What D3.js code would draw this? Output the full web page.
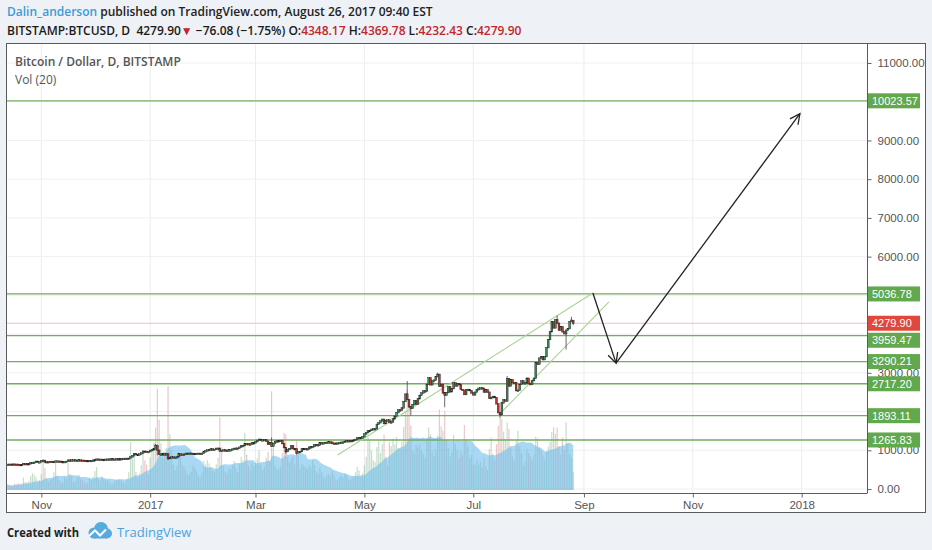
<!DOCTYPE html>
<html>
<head>
<meta charset="utf-8">
<title>BITSTAMP:BTCUSD, D</title>
<script src="https://cdnjs.cloudflare.com/ajax/libs/d3/7.8.5/d3.min.js"></script>
<style>
  body { margin: 0; background: #eef1f5; }
  svg { display: block; font-family: "Liberation Sans", Arial, sans-serif; }
  .hdr { font-family: "Open Sans", sans-serif; font-weight: 600; font-size: 12px; }
</style>
</head>
<body>
<svg width="932" height="550"></svg>
<script>
// daily closes (USD), Bitstamp, 13 Oct 2016 .. 26 Aug 2017
var closeOct16 = [636,638,637,641,638,637,630,629,631,655,653,651,651,676,684,688,714,698,700]
var closeNov16 = [730,739,688,704,703,711,703,709,721,715,716,705,702,706,712,745,740,750,751,730,738,748,741,740,735,733,729,735,733,744]
var closeDec16 = [752,770,765,766,757,760,767,770,771,775,768,770,778,777,776,781,788,789,787,792,828,859,916,891,890,902,929,975,972,959,966]
var closeJan17 = [997,1015,1035,1125,1000,893,900,906,900,905,785,812,825,818,820,830,902,873,898,893,921,921,923,918,892,914,918,920,914,920,967]
var closeFeb17 = [985,1007,1018,1033,1014,1024,1050,1052,980,995,1008,996,994,1007,1010,1030,1048,1053,1052,1080,1117,1122,1172,1168,1143,1161,1190,1190]
var closeMar17 = [1222,1255,1283,1262,1268,1275,1233,1150,1190,1105,1180,1226,1238,1244,1253,1172,1070,965,1022,1043,1116,1040,1040,933,965,968,1040,1045,1038,1033,1080]
var closeApr17 = [1085,1095,1145,1142,1130,1192,1190,1180,1203,1206,1213,1208,1172,1180,1184,1180,1198,1207,1210,1230,1245,1240,1248,1239,1262,1280,1318,1328,1317,1348]
var closeMay17 = [1420,1455,1500,1510,1540,1555,1555,1670,1710,1760,1800,1690,1760,1780,1715,1730,1810,1880,1970,2040,2035,2090,2260,2450,2310,2120,2080,2180,2280,2190,2330]
var closeJun17 = [2420,2480,2530,2520,2700,2870,2690,2790,2810,2900,2960,2650,2700,2480,2420,2490,2640,2510,2590,2740,2660,2720,2700,2570,2550,2440,2560,2570,2540,2480]
var closeJul17 = [2430,2500,2560,2600,2610,2600,2500,2560,2500,2340,2360,2390,2360,2200,1970,1920,2220,2300,2270,2850,2660,2820,2750,2750,2540,2550,2700,2790,2720,2740,2860]
var closeAug17 = [2720,2700,2800,2860,3260,3220,3380,3420,3340,3420,3650,3860,4060,4320,4160,4370,4280,4100,4190,4060,4010,4100,4140,4320,4356,4279.90]

// last bar as quoted in the header: open, high, low, close
var lastOHLC = [4348.17, 4369.78, 4232.43, 4279.90]

// wicks that stick out of the bodies
var wickHighs = [["2016-11-02",750],["2017-01-04",1160],["2017-03-10",1330],["2017-05-25",2790],["2017-06-11",3000],["2017-07-20",2920],["2017-08-17",4480],["2017-08-25",4450]]
var wickLows = [["2017-01-05",870],["2017-01-11",750],["2017-03-18",900],["2017-03-24",890],["2017-05-27",1900],["2017-06-15",2110],["2017-07-16",1840],["2017-08-22",3600]]

// daily volume, thousands of BTC
var volOct16 = [2.1,1.8,1.5,1.7,2.4,2.2,2.6,2.3,2.5,4.8,3.1,2.9,3.4,5.2,6.5,5.8,4.9,3.6,3.9]
var volNov16 = [6.1,11.8,8.5,4.6,3.2,3.9,4.4,6.8,10.9,5.1,3.8,2.9,2.6,4.9,4.2,10.5,6.2,5.6,3.1,3.4,4.8,5.9,4.1,3.7,3.2,2.4,2.8,4.6,3.9,5.1]
var volDec16 = [7.2,8.8,4.1,3.5,5.2,4.0,3.6,3.9,3.3,2.6,2.2,3.4,3.8,4.1,3.9,3.5,2.8,2.5,4.4,6.8,18.5,12.1,14.2,6.9,4.8,6.3,9.5,15.2,11.4,9.8,6.1]
var volJan17 = [12.5,14.8,18.2,24.0,39.0,27.0,18.0,12.5,13.8,16.2,40.0,21.5,15.2,9.8,7.6,9.1,14.5,13.2,9.6,8.9,7.4,5.8,6.2,7.0,9.5,8.4,7.1,5.3,4.9,6.6,11.2]
var volFeb17 = [9.8,11.5,10.2,8.6,7.4,6.8,9.9,12.4,28.0,16.5,9.2,7.1,6.5,8.3,7.9,9.6,11.2,8.4,6.9,10.1,12.8,11.5,22.0,13.6,9.4,7.8,10.5,9.2]
var volMar17 = [10.4,12.1,15.3,9.8,7.6,8.9,12.4,14.6,11.2,38.0,16.8,9.3,8.1,7.9,8.8,14.2,22.0,21.5,12.6,10.4,11.8,12.9,9.7,19.0,13.4,8.2,10.1,9.4,8.7,8.2,9.6]
var volApr17 = [8.8,11.5,9.6,7.2,6.4,8.5,6.9,5.2,4.6,5.8,6.1,5.4,7.3,5.9,4.1,3.6,4.8,5.5,4.9,6.2,5.7,4.4,3.8,4.6,5.3,6.8,8.9,7.6,5.1,6.4]
var volMay17 = [9.5,12.8,20.5,18.9,15.2,11.4,10.8,16.5,19.0,14.2,17.6,21.3,12.8,9.6,18.4,16.9,19.8,17.5,20.4,16.1,15.8,18.6,24.3,30.5,38.5,33.2,24.8,15.1,13.9,17.2,16.4]
var volJun17 = [17.5,15.2,13.8,12.4,19.6,24.1,21.3,14.8,13.2,15.6,20.8,31.0,24.5,22.8,30.5,19.4,16.2,12.9,14.6,21.2,17.8,15.3,12.6,14.9,13.4,25.0,19.6,16.8,12.2,13.5]
var volJul17 = [10.2,9.5,11.6,9.8,10.9,8.7,12.4,9.1,7.6,15.8,20.2,13.9,11.5,17.6,24.8,28.0,27.5,22.4,19.6,26.0,23.5,16.2,12.8,11.4,18.9,22.7,16.8,14.2,9.6,10.8,15.6]
var volAug17 = [14.2,12.8,11.6,13.4,20.5,19.8,16.4,15.1,13.2,11.8,14.9,16.7,18.5,22.3,24.1,21.6,24.0,16.8,13.5,20.2,15.4,26.0,17.9,14.1,12.6,6.8]

// horizontal levels drawn by the author
var levelValues = [10023.57, 5036.78, 3959.47, 3290.21, 2717.20, 1893.11, 1265.83]
var lastPrice = 4279.90

// trend channel and forecast arrows: [date, price]
var channelUpper = [["2017-04-16", 880], ["2017-09-06", 5060]]
var channelLower = [["2017-07-15", 1900], ["2017-09-15", 4830]]
var arrowDown = [["2017-09-06", 5060], ["2017-09-19", 3250]]
var arrowUp = [["2017-09-19", 3250], ["2017-12-31", 9690]]

var priceTicks = d3.range(0, 11001, 1000)

var svg = d3.select('svg')
var parse = d3.utcParse('%Y-%m-%d')

var closes = [].concat(closeOct16, closeNov16, closeDec16, closeJan17, closeFeb17, closeMar17,
                       closeApr17, closeMay17, closeJun17, closeJul17, closeAug17)
var vols = [].concat(volOct16, volNov16, volDec16, volJan17, volFeb17, volMar17,
                     volApr17, volMay17, volJun17, volJul17, volAug17)
var days = d3.utcDay.range(Date.UTC(2016, 9, 13), Date.UTC(2017, 7, 27))

var hi = new Map(wickHighs.map(function (d) { return [+parse(d[0]), d[1]] }))
var lo = new Map(wickLows.map(function (d) { return [+parse(d[0]), d[1]] }))

var bars = days.map(function (day, i) {
  var o = i ? closes[i - 1] : closes[0], c = closes[i]
  var b = { date: day, o: o, c: c, h: Math.max(o, c), l: Math.min(o, c), v: vols[i] }
  if (hi.has(+day)) b.h = Math.max(b.h, hi.get(+day))
  if (lo.has(+day)) b.l = Math.min(b.l, lo.get(+day))
  return b
})
var last = bars[bars.length - 1]
last.o = lastOHLC[0]; last.h = lastOHLC[1]; last.l = lastOHLC[2]; last.c = lastOHLC[3]

// Vol (20) moving average
bars.forEach(function (b, i) {
  b.ma = d3.mean(bars.slice(Math.max(0, i - 19), i + 1), function (d) { return d.v })
})

var L = 7, R = 867, T = 44, B = 493

var x = d3.scaleUtc().domain([Date.UTC(2017, 0, 1), Date.UTC(2018, 0, 1)]).range([150.2, 801.7])
var y = d3.scaleLinear().domain([0, 11000]).range([489, 63])
var yVol = d3.scaleLinear().domain([0, 40]).range([490, 386])

// frame
svg.append('rect').attr('x', 6.5).attr('y', 43.5).attr('width', 919).attr('height', 469)
  .attr('fill', '#fff').attr('stroke', '#5a5a5a')

svg.append('clipPath').attr('id', 'plot')
  .append('rect').attr('x', L).attr('y', T).attr('width', R - L).attr('height', B - T)

var plot = svg.append('g').attr('clip-path', 'url(#plot)')

var timeTicks = d3.utcMonth.every(2).range(x.invert(L), x.invert(R))
var fmtTime = function (d) { return d.getUTCMonth() === 0 ? d3.utcFormat('%Y')(d) : d3.utcFormat('%b')(d) }

// grid
plot.selectAll('.vgrid').data(timeTicks).enter().append('line')
  .attr('x1', function (d) { return x(d) }).attr('x2', function (d) { return x(d) })
  .attr('y1', T).attr('y2', B).attr('stroke', '#ececec')
plot.selectAll('.hgrid').data(priceTicks).enter().append('line')
  .attr('x1', L).attr('x2', R)
  .attr('y1', function (d) { return y(d) }).attr('y2', function (d) { return y(d) })
  .attr('stroke', '#f0f0f0')

// volume: columns under a translucent Vol (20) area
plot.selectAll('.vol').data(bars).enter().append('rect')
  .attr('x', function (d) { return x(d.date) - 0.6 }).attr('width', 1.2)
  .attr('y', function (d) { return yVol(d.v) })
  .attr('height', function (d) { return yVol(0) - yVol(d.v) })
  .attr('fill', function (d) { return d.c >= d.o ? 'rgba(120,175,130,0.42)' : 'rgba(205,125,125,0.42)' })

plot.append('path').datum(bars)
  .attr('fill', 'rgba(110,190,235,0.6)')
  .attr('d', d3.area().curve(d3.curveMonotoneX)
    .x(function (d) { return x(d.date) })
    .y0(yVol(0)).y1(function (d) { return yVol(d.ma) }))

// levels
plot.selectAll('.lvl').data(levelValues).enter().append('line')
  .attr('x1', L).attr('x2', R)
  .attr('y1', function (d) { return y(d) }).attr('y2', function (d) { return y(d) })
  .attr('stroke', '#72ad5e').attr('stroke-width', 1.3)
plot.append('line').attr('x1', L).attr('x2', R).attr('y1', y(lastPrice)).attr('y2', y(lastPrice))
  .attr('stroke', '#f1bccb').attr('stroke-width', 1)

var seg = d3.line()
  .x(function (d) { return x(parse(d[0])) })
  .y(function (d) { return y(d[1]) })

plot.selectAll('.chan').data([channelUpper, channelLower]).enter().append('path')
  .attr('d', seg).attr('fill', 'none').attr('stroke', '#a9d394').attr('stroke-width', 1.1)

// candles
var candle = plot.selectAll('.candle').data(bars).enter().append('g')
candle.append('line')
  .attr('x1', function (d) { return x(d.date) }).attr('x2', function (d) { return x(d.date) })
  .attr('y1', function (d) { return y(d.h) }).attr('y2', function (d) { return y(d.l) })
  .attr('stroke', '#444').attr('stroke-width', 0.8)
candle.append('rect')
  .attr('x', function (d) { return x(d.date) - 0.9 }).attr('width', 1.8)
  .attr('y', function (d) { return y(Math.max(d.o, d.c)) - 0.3 })
  .attr('height', function (d) { return Math.max(1.6, Math.abs(y(d.o) - y(d.c)) + 0.6) })
  .attr('fill', function (d) { return d.c >= d.o ? '#3a8a5a' : '#b8372c' })
  .attr('stroke', '#1e1e1e').attr('stroke-width', 0.45)

// arrows
svg.append('defs').append('marker').attr('id', 'head')
  .attr('markerUnits', 'userSpaceOnUse').attr('markerWidth', 14).attr('markerHeight', 14)
  .attr('refX', 11).attr('refY', 6).attr('orient', 'auto')
  .append('path').attr('d', 'M1,1 L11,6 L1,11').attr('fill', 'none')
  .attr('stroke', '#222').attr('stroke-width', 1.3)

plot.selectAll('.arrow').data([arrowDown, arrowUp]).enter().append('path')
  .attr('d', seg).attr('fill', 'none').attr('stroke', '#222').attr('stroke-width', 1.3)
  .attr('marker-end', 'url(#head)')

// axes
svg.append('line').attr('x1', L).attr('x2', R).attr('y1', B + 0.5).attr('y2', B + 0.5).attr('stroke', '#5a5a5a')
svg.append('line').attr('x1', R + 0.5).attr('x2', R + 0.5).attr('y1', T).attr('y2', B + 0.5).attr('stroke', '#5a5a5a')

var xAxis = svg.append('g').attr('transform', 'translate(0,' + (B + 0.5) + ')')
  .call(d3.axisBottom(x).tickValues(timeTicks).tickFormat(fmtTime).tickSize(4).tickPadding(3))
xAxis.select('.domain').remove()
xAxis.selectAll('line').attr('stroke', '#666')
xAxis.selectAll('text').attr('fill', '#555').attr('font-size', 11.5)
  .attr('font-family', '"Liberation Sans", Arial, sans-serif')

// price labels, pushed apart where they collide
var tags = levelValues.map(function (v) { return { v: v, fill: '#62a84c' } })
tags.push({ v: lastPrice, fill: '#e0483b' })
tags.sort(function (a, b) { return y(a.v) - y(b.v) })
var prev = -100
tags.forEach(function (t) {
  t.y = Math.max(y(t.v), prev + 17)
  prev = t.y
})

// tick labels that sit fully under a price tag are not shown
var shownTicks = priceTicks.filter(function (v) {
  return !tags.some(function (t) { return Math.abs(t.y - y(v)) < 7 })
})

var yAxis = svg.append('g').attr('transform', 'translate(' + (R + 0.5) + ',0)')
  .call(d3.axisRight(y).tickValues(shownTicks).tickFormat(d3.format('.2f')).tickSize(4).tickPadding(6))
yAxis.select('.domain').remove()
yAxis.selectAll('line').attr('stroke', '#666')
yAxis.selectAll('text').attr('fill', '#555').attr('font-size', 11.5)
  .attr('font-family', '"Liberation Sans", Arial, sans-serif')

var tag = svg.selectAll('.tag').data(tags).enter().append('g')
  .attr('transform', function (d) { return 'translate(868,' + d.y + ')' })
tag.append('rect').attr('x', 0).attr('y', -7.5).attr('width', 52).attr('height', 15)
  .attr('fill', function (d) { return d.fill })
tag.append('text').attr('x', 4).attr('dy', '0.35em').attr('fill', '#fff').attr('font-size', 11)
  .text(function (d) { return d3.format('.2f')(d.v) })

// legend inside the pane
svg.append('text').attr('x', 15).attr('y', 66).attr('class', 'hdr').attr('fill', '#555')
  .text('Bitcoin / Dollar, D, BITSTAMP')
svg.append('text').attr('x', 15).attr('y', 84).attr('fill', '#555')
  .attr('font-family', '"Open Sans", sans-serif').attr('font-size', 12).text('Vol (20)')

// header
var h1 = svg.append('text').attr('x', 7).attr('y', 16).attr('class', 'hdr')
h1.append('tspan').attr('fill', '#3d9bd6').text('Dalin_anderson')
h1.append('tspan').attr('fill', '#222').text(' published on TradingView.com, August 26, 2017 09:40 EST')

var red = '#c0272d'
var h2 = svg.append('text').attr('x', 7).attr('y', 35).attr('class', 'hdr').attr('fill', '#1a1a1a')
  .attr('xml:space', 'preserve')
h2.append('tspan').text('BITSTAMP:BTCUSD, D  4279.90')
h2.append('tspan').attr('fill', red).text('\u25BC')
h2.append('tspan').text(' \u221276.08 (\u22121.75%) O:')
h2.append('tspan').attr('fill', red).text(d3.format('.2f')(lastOHLC[0]))
h2.append('tspan').text(' H:')
h2.append('tspan').attr('fill', red).text(d3.format('.2f')(lastOHLC[1]))
h2.append('tspan').text(' L:')
h2.append('tspan').attr('fill', red).text(d3.format('.2f')(lastOHLC[2]))
h2.append('tspan').text(' C:')
h2.append('tspan').attr('fill', red).text(d3.format('.2f')(lastOHLC[3]))

// footer
svg.append('text').attr('x', 7).attr('y', 537).attr('font-family', '"Open Sans", sans-serif')
  .attr('font-weight', 700).attr('font-size', 13).attr('fill', '#222')
  .attr('textLength', 72).attr('lengthAdjust', 'spacingAndGlyphs').text('Created with')
var logo = svg.append('g').attr('fill', '#55aadf')
logo.append('circle').attr('cx', 94).attr('cy', 533).attr('r', 5.5)
logo.append('circle').attr('cx', 101).attr('cy', 529).attr('r', 7)
logo.append('circle').attr('cx', 107).attr('cy', 533.5).attr('r', 5)
logo.append('rect').attr('x', 94).attr('y', 532).attr('width', 13).attr('height', 6.5)
svg.append('polyline').attr('points', '89,536 95,530.5 100,535.5 106,529.5')
  .attr('fill', 'none').attr('stroke', '#fff').attr('stroke-width', 2)
svg.append('text').attr('x', 117).attr('y', 537).attr('font-family', '"Open Sans", sans-serif')
  .attr('font-size', 13).attr('fill', '#4aa3df').text('TradingView')
</script>
</body>
</html>
